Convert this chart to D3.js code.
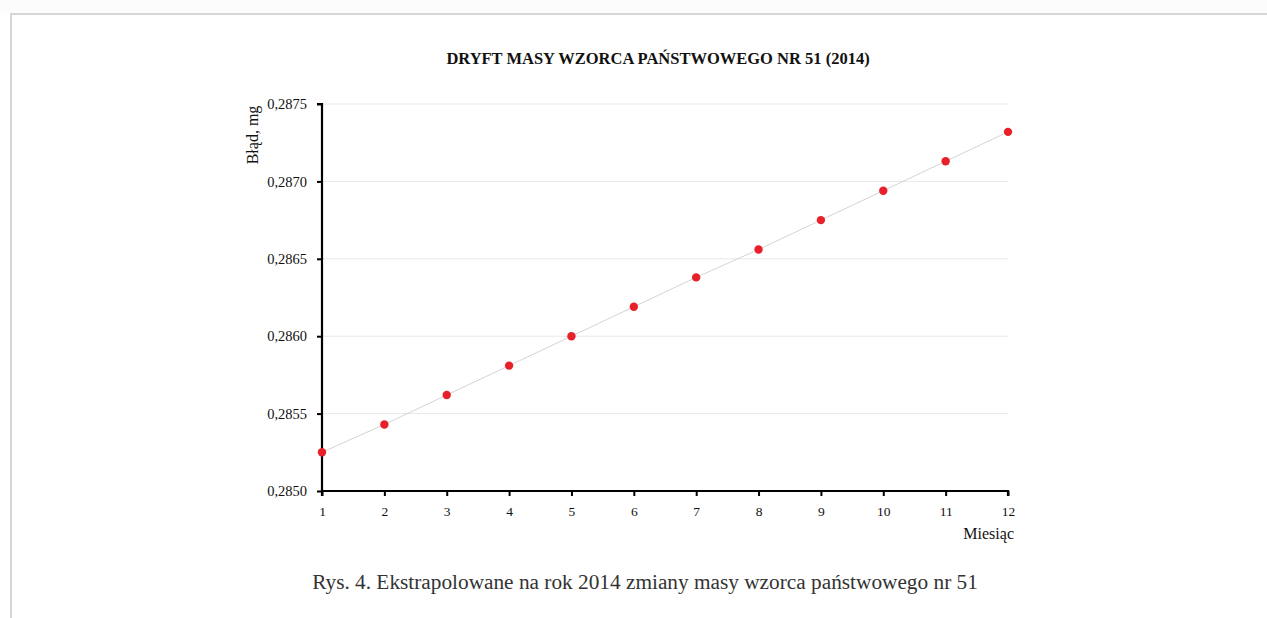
<!DOCTYPE html>
<html><head><meta charset="utf-8">
<script src="https://cdn.jsdelivr.net/npm/d3@7"></script>
<style>
html,body{margin:0;padding:0;background:#fff;}
svg{display:block;}
</style></head>
<body>
<script>
const months = [1,2,3,4,5,6,7,8,9,10,11,12];
const values = [0.28525,0.28543,0.28562,0.28581,0.28600,0.28619,0.28638,0.28656,0.28675,0.28694,0.28713,0.28732];
const yTicks = [0.2850,0.2855,0.2860,0.2865,0.2870,0.2875];
const titleText = "DRYFT MASY WZORCA PAŃSTWOWEGO NR 51 (2014)";
const yLabel = "Błąd, mg";
const xLabel = "Miesiąc";
const caption = "Rys. 4. Ekstrapolowane na rok 2014 zmiany masy wzorca państwowego nr 51";

const W = 1267, H = 618;
const svg = d3.select("body").append("svg").attr("width", W).attr("height", H);

// frame
svg.append("rect").attr("x",0).attr("y",0).attr("width",W).attr("height",13).attr("fill","#fcfcfc");
svg.append("line").attr("x1",11).attr("x2",W).attr("y1",14).attr("y2",14).attr("stroke","#d6d6d6").attr("stroke-width",2);
svg.append("line").attr("x1",11).attr("x2",11).attr("y1",13).attr("y2",H).attr("stroke","#d6d6d6").attr("stroke-width",2);

const x = d3.scaleLinear().domain([1,12]).range([322,1008]);
const y = d3.scaleLinear().domain([0.2850,0.2875]).range([491,104]);

const fmt = d => d3.format(".4f")(d).replace(".", ",");

// gridlines
svg.append("g").selectAll("line").data(yTicks.slice(1)).join("line")
  .attr("x1", x(1)).attr("x2", x(12))
  .attr("y1", d => y(d)).attr("y2", d => y(d))
  .attr("stroke","#e8e8e8").attr("stroke-width",1);

// trend line
svg.append("path").datum(months.map((m,i)=>[m,values[i]]))
  .attr("d", d3.line().x(d=>x(d[0])).y(d=>y(d[1])))
  .attr("fill","none").attr("stroke","#d4d4d4").attr("stroke-width",1);

// axes
const yAxis = svg.append("g").attr("transform",`translate(${x(1)},0)`)
  .call(d3.axisLeft(y).tickValues(yTicks).tickFormat(fmt).tickSize(5).tickPadding(10));
const xAxis = svg.append("g").attr("transform",`translate(0,${y(0.2850)})`)
  .call(d3.axisBottom(x).tickValues(months).tickFormat(d3.format("d")).tickSize(5).tickPadding(10));
[yAxis,xAxis].forEach(g=>{
  g.select(".domain").attr("stroke","#000").attr("stroke-width",2.2);
  g.selectAll(".tick line").attr("stroke","#000").attr("stroke-width",2);
  g.selectAll("text").attr("font-family","'Liberation Serif', serif").attr("fill","#111");
});
yAxis.selectAll("text").attr("font-size",14.5);
xAxis.selectAll("text").attr("font-size",13.5);
yAxis.select(".domain").attr("d", `M-5,${y(0.2875)}H0V${y(0.2850)}`);
xAxis.select(".domain").attr("d", `M${x(1)},5V0H${x(12)}V5`);

// points
svg.append("g").selectAll("circle").data(values).join("circle")
  .attr("cx",(d,i)=>x(months[i])).attr("cy",d=>y(d)).attr("r",4.2)
  .attr("fill","#e8202a");

// title
svg.append("text").attr("x",658).attr("y",64).attr("text-anchor","middle")
  .attr("font-family","'Liberation Serif', serif").attr("font-weight","bold").attr("font-size",16.5)
  .attr("fill","#111").text(titleText);

// y label
svg.append("text").attr("transform","translate(258,135) rotate(-90)").attr("text-anchor","middle")
  .attr("font-family","'Liberation Serif', serif").attr("font-size",16).attr("fill","#111").text(yLabel);

// x label
svg.append("text").attr("x",1014).attr("y",539).attr("text-anchor","end")
  .attr("font-family","'Liberation Serif', serif").attr("font-size",16).attr("fill","#111").text(xLabel);

// caption
svg.append("text").attr("x",645).attr("y",589).attr("text-anchor","middle")
  .attr("font-family","'Liberation Serif', serif").attr("font-size",21.3).attr("fill","#333").text(caption);
</script>
</body></html>
